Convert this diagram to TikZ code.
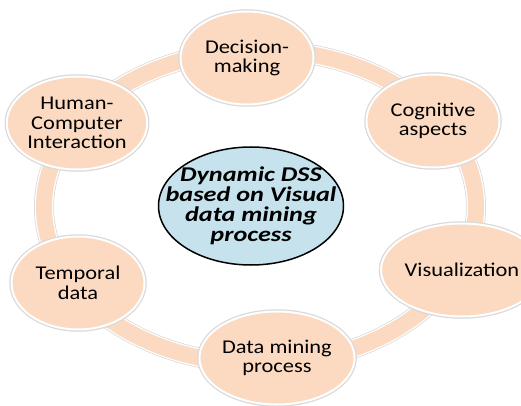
\documentclass[tikz,border=0pt]{standalone}
\usepackage{fontspec}
\setmainfont{Carlito}[FakeStretch=1.15]
\newfontfamily\hubfont{Carlito}[FakeStretch=1.25]
\usetikzlibrary{shapes.geometric}
\definecolor{peach}{RGB}{251,218,193}
\definecolor{lightblue}{RGB}{198,227,237}
\begin{document}
\begin{tikzpicture}[x=1pt, y=-1pt, line join=round, line cap=round,
  item/.style={ellipse, fill=peach, draw=white, line width=2pt,
    preaction={draw=black!15, line width=4.5pt},
    minimum width=133pt, minimum height=93pt, inner sep=0pt, align=center,
    font=\fontsize{19.5}{19.5}\selectfont},
  hub/.style={ellipse, fill=lightblue, draw=black, line width=1.5pt,
    minimum width=185pt, minimum height=118pt, inner xsep=-30pt, inner ysep=0pt,
    align=center, font=\hubfont\fontsize{21}{20}\selectfont\bfseries\itshape}]
\def\cx{260} \def\cy{207}
\def\rx{216pt} \def\ry{157pt}
\useasboundingbox (0,0) rectangle (521,406);
\clip (0,0) rectangle (521,406);
% ring
\draw[black!15, line width=20pt] (\cx,\cy) ellipse [x radius=\rx, y radius=\ry];
\draw[white, line width=18.5pt] (\cx,\cy) ellipse [x radius=\rx, y radius=\ry];
\draw[peach, line width=16pt] (\cx,\cy) ellipse [x radius=\rx, y radius=\ry];
% centre
\node[hub] (dss) at (251,206) {Dynamic DSS\\based on Visual\\data mining\\process};
% items round the ring
\node[item] (dec) at (247,58) {Decision-\\making};
\node[item] (cog) at (433,121) {Cognitive\\aspects};
\node[item] (vis) at (462,270) {Visualization};
\node[item] (dmp) at (277,358) {Data mining\\process};
\node[item] (tmp) at (78,283) {Temporal\\data};
\node[item] (hci) at (77,123) {Human-\\Computer\\Interaction};
\end{tikzpicture}
\end{document}
